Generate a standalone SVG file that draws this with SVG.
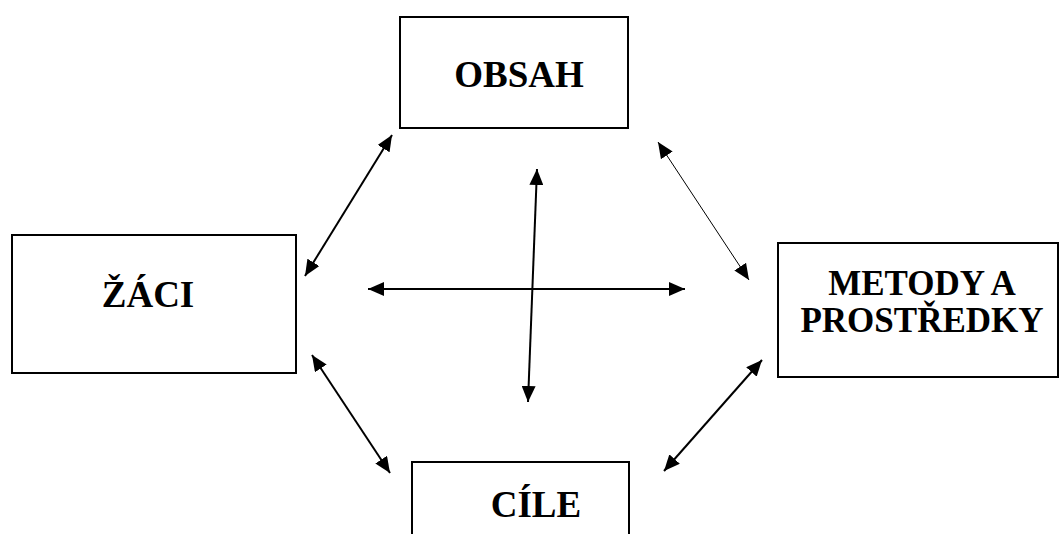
<svg xmlns="http://www.w3.org/2000/svg" width="1060" height="534" viewBox="0 0 1060 534">
  <style>
    .box { fill: #fff; stroke: #000; stroke-width: 2; }
    .lbl { font-family: "Liberation Serif", "Times New Roman", serif; font-weight: bold; font-size: 37px; fill: #000; text-anchor: middle; }
    .lbl.small { font-size: 35px; }
    .link { stroke: #000; stroke-width: 2; fill: none; marker-start: url(#head); marker-end: url(#head); }
    .thin { stroke-width: 1; }
  </style>
  <defs>
    <marker id="head" viewBox="0 0 16 14" refX="16" refY="7" markerWidth="16" markerHeight="14" markerUnits="userSpaceOnUse" orient="auto-start-reverse">
      <path d="M0,0 L16,7 L0,14 z" fill="#000"/>
    </marker>
  </defs>
  <rect width="1060" height="534" fill="#fff"/>

  <g id="node-obsah">
    <rect class="box" x="400" y="17" width="228" height="111"/>
    <text class="lbl" x="519" y="87">OBSAH</text>
  </g>

  <g id="node-zaci">
    <rect class="box" x="12" y="235" width="284" height="138"/>
    <text class="lbl" x="148" y="307">ŽÁCI</text>
  </g>

  <g id="node-metody">
    <rect class="box" x="778" y="243" width="280" height="134"/>
    <text class="lbl small" x="922" y="295">METODY A</text>
    <text class="lbl small" x="922" y="332">PROSTŘEDKY</text>
  </g>

  <g id="node-cile">
    <rect class="box" x="412" y="462" width="217" height="80"/>
    <text class="lbl" x="536" y="517">CÍLE</text>
  </g>

  <g id="connectors">
    <line class="link" x1="392" y1="135" x2="305" y2="276"/>
    <line class="link thin" x1="658" y1="142" x2="749" y2="280"/>
    <line class="link" x1="312" y1="355" x2="390" y2="473"/>
    <line class="link" x1="762" y1="360" x2="664" y2="471"/>
    <line class="link" x1="368" y1="289" x2="685" y2="289"/>
    <line class="link" x1="537" y1="169" x2="528" y2="402"/>
  </g>
</svg>
